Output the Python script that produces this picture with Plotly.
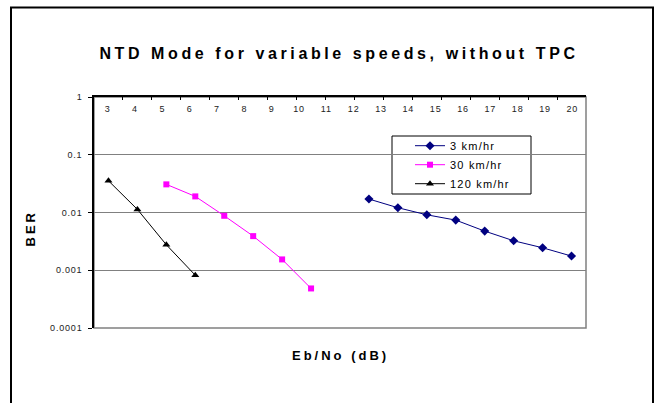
import plotly.graph_objects as go

# Eb/No category slots (dB) and BER per mobile speed
ebno_120 = [3, 4, 5, 6]
ber_120 = [0.0354, 0.0113, 0.00276, 0.00082]

ebno_30 = [5, 6, 7, 8, 9, 10]
ber_30 = [0.0307, 0.0190, 0.00877, 0.00390, 0.00154, 0.000484]

ebno_3 = [12, 13, 14, 15, 16, 17, 18, 19]
ber_3 = [0.0171, 0.0121, 0.00912, 0.00738, 0.00476, 0.00324, 0.00245, 0.00176]

# category tick labels along the top axis
x_labels = [str(v) for v in range(3, 21)]
y_ticks = [1, 0.1, 0.01, 0.001, 0.0001]
y_ticktext = ["1", "0.1", "0.01", "0.001", "0.0001"]

FONT = "Liberation Sans, Arial, sans-serif"

x_lo, x_hi = 2.5, 19.5
n_lab = len(x_labels)
label_pos = [x_lo + (k + 0.5) * (x_hi - x_lo) / n_lab for k in range(n_lab)]
bound_pos = [x_lo + k for k in range(int(x_hi - x_lo) + 1)]

# plot-area geometry in pixels, used to place paper-referenced items
L, R, T, B = 94, 586, 97, 328
W, H = R - L, B - T


def px(x):
    return (x - L) / W


def py(y):
    return (B - y) / H


fig = go.Figure()
fig.add_trace(go.Scatter(
    x=ebno_3, y=ber_3, name="3 km/hr", mode="lines+markers",
    line=dict(color="#000080", width=1),
    marker=dict(symbol="diamond", size=7, color="#000080"),
))
fig.add_trace(go.Scatter(
    x=ebno_30, y=ber_30, name="30 km/hr", mode="lines+markers",
    line=dict(color="#FF00FF", width=1),
    marker=dict(symbol="square", size=6, color="#FF00FF"),
))
fig.add_trace(go.Scatter(
    x=ebno_120, y=ber_120, name="120 km/hr", mode="lines+markers",
    line=dict(color="#000000", width=1),
    marker=dict(symbol="triangle-up", size=7, color="#000000"),
))
# carrier for the label-only category axis
fig.add_trace(go.Scatter(x=[], y=[], xaxis="x2", showlegend=False, hoverinfo="skip"))

fig.update_layout(
    width=657, height=403,
    margin=dict(l=L, r=657 - R, t=T, b=403 - B),
    paper_bgcolor="white", plot_bgcolor="white",
    font=dict(family=FONT, color="black"),
    title=dict(
        text="<b>NTD Mode for variable speeds, without TPC</b>",
        font=dict(family=FONT, size=16, color="black"),
        x=339 / 657, xanchor="center", xref="container",
        y=1 - 53.5 / 403, yanchor="middle", yref="container",
    ),
    xaxis=dict(
        range=[x_lo, x_hi], side="top", showgrid=False, zeroline=False,
        showline=True, linecolor="black", linewidth=1.5,
        tickmode="array", tickvals=bound_pos, ticks="inside", ticklen=3,
        tickcolor="black", showticklabels=False,
    ),
    # category labels hang just below the top axis line
    xaxis2=dict(
        range=[x_lo, x_hi], overlaying="x", anchor="free", position=1.0,
        side="bottom", showgrid=False, zeroline=False, showline=False,
        tickmode="array", tickvals=label_pos, ticktext=x_labels,
        ticks="", ticklabelstandoff=5,
        tickfont=dict(family=FONT, size=9, color="#222222"),
    ),
    yaxis=dict(
        type="log", range=[-4.00001, 0.00001], showgrid=True,
        gridcolor="#808080", gridwidth=1,
        zeroline=False, showline=True, linecolor="black", linewidth=1.5,
        tickmode="array", tickvals=y_ticks, ticktext=y_ticktext,
        ticks="outside", ticklen=4, tickcolor="black", ticklabelstandoff=4,
        ticklabeloverflow="allow",
        tickfont=dict(family=FONT, size=9, color="#222222"),
    ),
    legend=dict(
        x=px(410), y=py(131.2), xanchor="left", yanchor="top",
        bgcolor="rgba(0,0,0,0)", borderwidth=0,
        font=dict(family=FONT, size=11, color="black"),
        tracegroupgap=0,
    ),
    showlegend=True,
)

# plot-area frame (grey right and bottom edges)
fig.add_shape(type="rect", xref="paper", yref="paper", x0=0, x1=1, y0=0, y1=1,
              line=dict(color="#808080", width=1.5), layer="below")
# legend frame, white so it hides the gridline behind it
fig.add_shape(type="rect", xref="paper", yref="paper",
              x0=px(392), x1=px(531), y0=py(194), y1=py(136),
              line=dict(color="black", width=1), fillcolor="white", layer="between")
# outer chart frame
fig.add_shape(type="rect", xref="paper", yref="paper",
              x0=px(11), x1=px(653), y0=py(420), y1=py(7.5),
              line=dict(color="black", width=2), layer="above")

fig.add_annotation(text="<b>Eb/No (dB)</b>", xref="paper", yref="paper",
                   x=px(340), y=py(355), xanchor="center", yanchor="middle",
                   showarrow=False, font=dict(family=FONT, size=13, color="black"))
fig.add_annotation(text="<b>BER</b>", xref="paper", yref="paper",
                   x=px(30), y=py(228), xanchor="center", yanchor="middle",
                   textangle=-90,
                   showarrow=False, font=dict(family=FONT, size=13, color="black"))

# widen character spacing of the chart texts
post = """
function spread(){
  document.querySelectorAll('.gtitle').forEach(function(e){ e.style.letterSpacing = '3.6px'; });
  document.querySelectorAll('.annotation-text').forEach(function(e){ e.style.letterSpacing = '3px'; });
  document.querySelectorAll('.legendtext').forEach(function(e){ e.style.letterSpacing = '1.2px'; });
  document.querySelectorAll('.legend .scrollbox').forEach(function(e){
    e.removeAttribute('clip-path'); e.style.clipPath = 'none';
  });
  document.querySelectorAll('.xtick text, .x2tick text, .ytick text').forEach(function(e){ e.style.letterSpacing = '0.8px'; });
}
spread();
var gd = document.querySelector('.plotly-graph-div');
if (gd && gd.on) { gd.on('plotly_afterplot', spread); }
"""

fig.write_html("out.html", post_script=post)
